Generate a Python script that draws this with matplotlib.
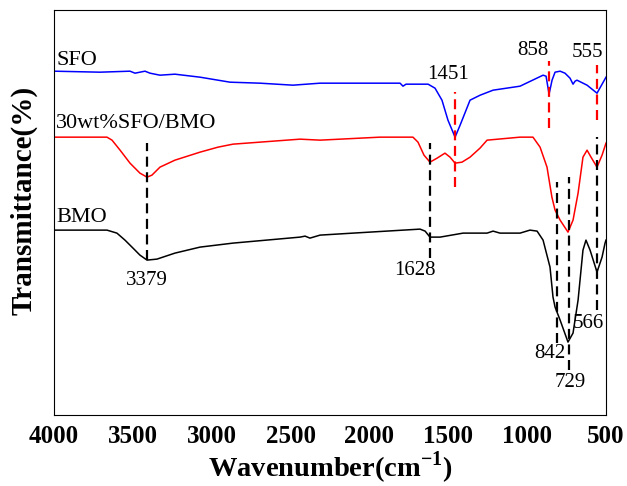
import numpy as np
import matplotlib
matplotlib.use("Agg")
from matplotlib import pyplot as plt

plt.rcParams["font.family"] = ["Liberation Serif", "DejaVu Serif"]

# spectra (wavenumber in cm-1, transmittance in arbitrary offset units)
sfo_wn = [4000, 3708, 3518, 3486, 3455, 3423, 3391, 3328, 3233, 3074, 2884, 2694, 2485, 2313,
          1806, 1787, 1768, 1628, 1584, 1540, 1502, 1457, 1425, 1362, 1298, 1216, 1045, 899,
          880, 861, 842, 823, 791, 760, 728, 709, 696, 684, 620, 557, 532, 500]
sfo_t = [344, 343, 344, 342, 343, 344, 342, 340, 341, 338, 333, 332, 330, 332,
         332, 329, 331, 331, 327, 315, 295, 278, 290, 315, 320, 325, 329, 340,
         339, 321, 335, 343, 344, 342, 337, 331, 334, 335, 330, 322, 329, 338]

mix_wn = [4000, 3664, 3632, 3581, 3518, 3455, 3410, 3379, 3328, 3233, 3074, 2960, 2865, 2440,
          2313, 1933, 1724, 1692, 1654, 1616, 1571, 1521, 1489, 1457, 1413, 1362, 1299, 1254,
          1045, 963, 918, 874, 843, 823, 791, 741, 709, 677, 646, 620, 595, 557, 525, 500]
mix_t = [278, 278, 275, 265, 252, 242, 238, 240, 248, 255, 263, 268, 271, 276,
         275, 278, 278, 273, 260, 253, 257, 262, 258, 252, 253, 258, 267, 275,
         278, 278, 268, 248, 218, 205, 195, 183, 195, 222, 258, 265, 258, 248, 260, 272]

bmo_wn = [4000, 3664, 3601, 3550, 3499, 3455, 3410, 3347, 3233, 3074, 2865, 2440, 2408, 2377,
          2313, 2104, 1679, 1647, 1616, 1552, 1406, 1254, 1216, 1172, 1045, 982, 937, 899,
          855, 836, 823, 791, 741, 709, 677, 646, 627, 601, 557, 525, 506, 500]
bmo_t = [185, 185, 182, 175, 167, 160, 155, 156, 162, 168, 172, 178, 179, 177,
         180, 182, 186, 184, 178, 178, 182, 182, 184, 182, 182, 185, 184, 175,
         148, 118, 108, 95, 73, 82, 115, 165, 175, 165, 143, 158, 172, 175]

# peak markers: position, dashed-line span, label, label position, colour
peak_pos = [3410, 1616, 1457, 861, 557, 810, 734, 557]
peak_lo = [155, 157, 228, 287, 295, 72, 45, 105]
peak_hi = [272, 272, 323, 354, 350, 233, 238, 278]
peak_labels = ["3379", "1628", "1451", "858", "555", "842", "729", "566"]
label_x = [3410, 1711, 1502, 963, 620, 855, 728, 614]
label_y = [135, 145, 341, 365, 363, 62, 33, 92]
peak_colors = ["k", "k", "r", "r", "r", "k", "k", "k"]

names = ["SFO", "30wt%SFO/BMO", "BMO"]
name_y = [355, 292, 198]

fig = plt.figure(figsize=(6.27, 4.86), dpi=100)
ax = fig.add_axes([0.0861, 0.146, 0.8804, 0.833])

ax.plot(sfo_wn, sfo_t, color="#0000ff", lw=1.1)
ax.plot(mix_wn, mix_t, color="#ff0000", lw=1.1)
ax.plot(bmo_wn, bmo_t, color="k", lw=1.1)

for i in range(len(peak_pos)):
    ax.plot([peak_pos[i], peak_pos[i]], [peak_lo[i], peak_hi[i]], color=peak_colors[i],
            lw=1.6, linestyle=(0, (4.5, 2.5)))
    ax.text(label_x[i], label_y[i], peak_labels[i], fontsize=15, ha="center", va="center")

for name, y in zip(names, name_y):
    ax.text(3985, y, name, fontsize=16, ha="left", va="center")

ax.set_xlim(4000, 500)
ax.set_ylim(0, 405)
ax.set_xticks(np.arange(4000, 499, -500))
ax.set_yticks([])
ax.tick_params(axis="x", length=0, pad=7, labelsize=18)
for lab in ax.get_xticklabels():
    lab.set_fontweight("bold")
ax.set_xlabel("Wavenumber(cm$^{\\mathregular{-1}}$)", fontsize=20.5, fontweight="bold", labelpad=1)
ax.set_ylabel("Transmittance(%)", fontsize=21, fontweight="bold")
ax.yaxis.set_label_coords(-0.03, 0.53)

plt.savefig("out.png", dpi=100)
